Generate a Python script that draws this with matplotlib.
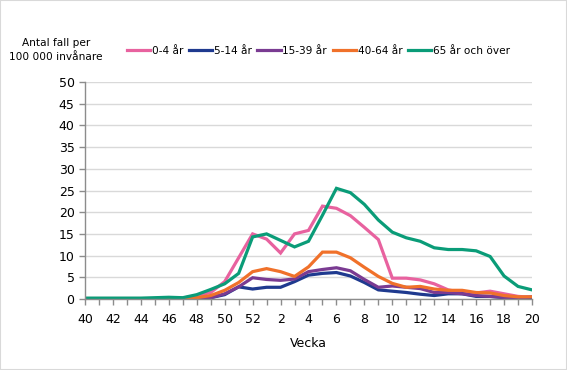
import matplotlib
matplotlib.use("Agg")
import matplotlib.pyplot as plt
from matplotlib.patches import Rectangle

weeks = list(range(40, 53)) + list(range(1, 21))
tick_labels = [str(w) if w % 2 == 0 else "" for w in weeks]

s_0_4 = [0.1, 0.1, 0.1, 0.1, 0.1, 0.1, 0.2, 0.2, 0.8, 1.5, 4.0, 9.5, 15.0, 13.8, 10.6, 15.0, 15.8,
         21.4, 20.9, 19.2, 16.5, 13.7, 4.8, 4.8, 4.4, 3.5, 2.1, 1.5, 1.4, 1.8, 1.2, 0.6, 0.4]
s_5_14 = [0.0, 0.0, 0.0, 0.0, 0.0, 0.0, 0.0, 0.0, 0.1, 0.3, 1.0, 2.8, 2.3, 2.7, 2.7, 4.0, 5.5,
          5.9, 6.1, 5.3, 3.8, 2.1, 1.8, 1.5, 1.1, 0.8, 1.2, 1.2, 0.6, 0.6, 0.3, 0.2, 0.2]
s_15_39 = [0.0, 0.0, 0.0, 0.0, 0.0, 0.0, 0.1, 0.1, 0.1, 0.3, 1.2, 2.8, 4.9, 4.5, 4.3, 4.6, 6.3,
           6.8, 7.2, 6.5, 4.5, 2.7, 3.0, 2.7, 2.4, 1.5, 1.5, 1.2, 0.8, 0.6, 0.4, 0.2, 0.5]
s_40_64 = [0.1, 0.1, 0.1, 0.1, 0.1, 0.1, 0.1, 0.1, 0.3, 0.8, 2.0, 3.8, 6.3, 7.0, 6.3, 5.2, 7.4,
           10.8, 10.8, 9.5, 7.3, 5.2, 3.6, 2.7, 2.9, 2.3, 2.0, 2.0, 1.5, 1.4, 0.8, 0.5, 0.5]
s_65 = [0.2, 0.2, 0.2, 0.2, 0.2, 0.3, 0.4, 0.3, 1.0, 2.2, 3.5, 5.9, 14.3, 15.0, 13.5, 12.0, 13.3,
        19.3, 25.5, 24.5, 21.8, 18.2, 15.4, 14.1, 13.3, 11.8, 11.4, 11.4, 11.1, 9.8, 5.3, 2.9, 2.1]

series = [
    ("0-4 år", s_0_4, "#E8629F"),
    ("5-14 år", s_5_14, "#1F3A8F"),
    ("15-39 år", s_15_39, "#7A3B92"),
    ("40-64 år", s_40_64, "#F0712A"),
    ("65 år och över", s_65, "#0A9C78"),
]

W, H = 567, 370
fig = plt.figure(figsize=(W / 100, H / 100), dpi=100)
ax = fig.add_axes([85 / W, 1 - 299 / H, (532 - 85) / W, (299 - 82) / H])

x = list(range(len(weeks)))
for label, vals, color in series:
    ax.plot(x, vals, color=color, lw=2.3, label=label, solid_joinstyle="miter")

ax.set_xlim(0, len(weeks) - 1)
ax.set_ylim(0, 50)
ax.set_yticks(range(0, 51, 5))
ax.set_xticks(x)
ax.set_xticklabels(tick_labels)
ax.grid(axis="y", color="#D9D9D9", lw=1)
ax.set_axisbelow(True)
for s in ["top", "right"]:
    ax.spines[s].set_visible(False)
for s in ["left", "bottom"]:
    ax.spines[s].set_color("#8C8C8C")
    ax.spines[s].set_linewidth(1)
ax.tick_params(axis="both", colors="#8C8C8C", labelcolor="#000000", labelsize=9, length=4, width=1)
ax.tick_params(axis="x", pad=6)

ax.set_xlabel("Vecka", fontsize=9, labelpad=8)
fig.text(56 / W, 1 - 50 / H, "Antal fall per\n100 000 invånare", ha="center", va="center",
         fontsize=7.6, linespacing=1.6)

fig.legend(loc="center left", bbox_to_anchor=(127 / W, 1 - 51 / H), ncol=5, frameon=False,
           fontsize=7.6, handlelength=2.2, handletextpad=0.15, columnspacing=0.55, borderpad=0,
           borderaxespad=0)

fig.patches.append(Rectangle((0, 0), 1, 1, transform=fig.transFigure, fill=False,
                             edgecolor="#D9D9D9", lw=1.5))

fig.savefig("out.png", dpi=100)
